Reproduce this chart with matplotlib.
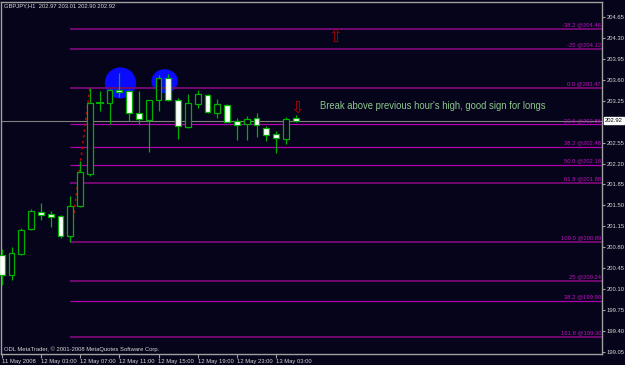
import matplotlib
matplotlib.use("Agg")
import matplotlib.pyplot as plt
from matplotlib.patches import Rectangle, Ellipse
import numpy as np

# ---------------- data ----------------
opens  = [200.66, 200.33, 200.69, 201.11, 201.39, 201.36, 201.32, 200.99, 201.48, 202.02,
          203.22, 203.21, 203.43, 203.41, 203.05, 202.93, 203.26, 203.63, 203.26, 202.81,
          203.20, 203.35, 203.04, 203.18, 202.91, 202.86, 202.96, 202.80, 202.69, 202.61, 202.97]
highs  = [200.77, 200.80, 201.12, 201.44, 201.54, 201.41, 201.33, 201.65, 202.25, 203.47,
          203.42, 203.45, 203.71, 203.43, 203.41, 203.27, 203.68, 203.70, 203.29, 203.37,
          203.43, 203.37, 203.28, 203.19, 202.97, 202.99, 203.05, 202.83, 202.75, 202.98, 203.01]
lows   = [200.16, 200.25, 200.67, 201.09, 201.26, 201.13, 200.96, 200.89, 201.47, 201.99,
          203.08, 202.87, 203.31, 202.91, 202.86, 202.40, 203.08, 203.25, 202.61, 202.80,
          203.13, 203.04, 202.96, 202.89, 202.59, 202.59, 202.64, 202.57, 202.38, 202.52, 202.90]
closes = [200.33, 200.70, 201.09, 201.41, 201.34, 201.31, 200.98, 201.49, 202.05, 203.22,
          203.21, 203.43, 203.40, 203.04, 202.94, 203.26, 203.63, 203.26, 202.83, 203.21,
          203.36, 203.06, 203.19, 202.90, 202.85, 202.95, 202.84, 202.67, 202.62, 202.95, 202.92]

time_tick_bars = [0, 4, 8, 12, 16, 20, 24, 28]
time_tick_labels = ["11 May 2008", "12 May 03:00", "12 May 07:00", "12 May 11:00",
                    "12 May 15:00", "12 May 19:00", "12 May 23:00", "13 May 03:00"]

price_ticks = [204.65, 204.30, 203.95, 203.60, 203.25, 202.55, 202.20, 201.85,
               201.50, 201.15, 200.80, 200.45, 200.10, 199.75, 199.40, 199.05]
current_price = 202.92

fib_labels = ["-38.2 @204.46", "-25 @204.12", "0.0 @203.47", "23.6 @202.86", "38.2 @202.48",
              "50.0 @202.18", "61.8 @201.88", "100.0 @200.89", "25 @200.24", "38.2 @199.90",
              "161.8 @199.30"]
fib_prices = [204.46, 204.12, 203.47, 202.86, 202.48, 202.18, 201.88, 200.89, 200.24, 199.90, 199.30]
fib_bright = [False, False, False, True, True, True, False, False, False, True, False]
fib_anchor_bars = [7, 9]          # bars of the 100% low and the 0% high
fib_anchor_prices = [200.89, 203.47]

circle_bars = [12.12, 16.63]
circle_prices = [203.55, 203.58]
circle_w = [3.2, 2.7]
circle_h = [0.52, 0.40]

annot_text = "Break above previous hour's high, good sign for longs"
annot_bar, annot_price = 32.5, 203.16
up_arrow_bar, up_arrow_price = 34.0, 204.32
down_arrow_bar, down_arrow_price = 30.1, 203.14

header = "GBPJPY,H1  202.97 203.01 202.90 202.92"
footer = "ODL MetaTrader, \u00a9 2001-2008 MetaQuotes Software Corp."

# ---------------- style ----------------
BG = "#05041a"
GREEN = "#00b000"
GRID = "#a0a0a0"
TXT = "#d8d8d8"
SMALL = ["Liberation Sans Narrow", "Liberation Sans", "DejaVu Sans"]
FS = 4.2

W, H = 625, 365
fig = plt.figure(figsize=(W / 100, H / 100), dpi=100, facecolor=BG)
L, R, T, B = 1.5, 602, 1.5, 354
ax = fig.add_axes([L / W, 1 - B / H, (R - L) / W, (B - T) / H], facecolor=BG)

px_per_bar = 9.8
x0 = 1.7
ax.set_xlim((L - x0) / px_per_bar, (R - x0) / px_per_bar)
ax.set_ylim(199.009, 204.914)

# circles (background)
for cx, cy, cw, ch in zip(circle_bars, circle_prices, circle_w, circle_h):
    ax.add_patch(Ellipse((cx, cy), cw, ch, facecolor="#0a0aff", edgecolor="none", zorder=1))

# fib lines
for lab, p, br in zip(fib_labels, fib_prices, fib_bright):
    ax.hlines(p, fib_anchor_bars[0], ax.get_xlim()[1],
              color="#b000b0" if br else "#700a70", lw=0.9 if br else 1.4, zorder=2)
    ax.text(ax.get_xlim()[1] - 0.1, p + 0.02, lab, ha="right", va="bottom",
            color="#c010c0", fontsize=FS, family=SMALL, zorder=3)

ax.plot(fib_anchor_bars, fib_anchor_prices, color="#c00000", lw=1.2, ls=(0, (1.5, 2)), zorder=3)

# current price line
ax.axhline(current_price, color="#808080", lw=0.8, zorder=2)

# candles
bw = 0.6
for i, (o, h, l, c) in enumerate(zip(opens, highs, lows, closes)):
    ax.vlines(i, l, h, color=GREEN, lw=0.9, zorder=4, clip_on=False)
    lo, hi = min(o, c), max(o, c)
    fc = "white" if c < o else BG
    if hi - lo < 0.02:
        ax.hlines((o + c) / 2, i - bw / 2 - 0.1, i + bw / 2 + 0.1, color=GREEN, lw=1.4, zorder=5)
    else:
        ax.add_patch(Rectangle((i - bw / 2, lo), bw, hi - lo, facecolor=fc,
                               edgecolor=GREEN, lw=0.9, zorder=5, clip_on=False))

# annotations
ax.text(annot_bar, annot_price, annot_text, color="#8cc88c", fontsize=6.85,
        family=["Liberation Sans", "DejaVu Sans"], ha="left", va="center", zorder=6)
ax.text(up_arrow_bar, up_arrow_price, "\u21e7", color="#b00000", fontsize=12,
        family="DejaVu Sans", ha="center", va="center", zorder=6)
ax.text(down_arrow_bar, down_arrow_price, "\u21e9", color="#b00000", fontsize=12,
        family="DejaVu Sans", ha="center", va="center", zorder=6)

# axes styling
for s in ax.spines.values():
    s.set_color(GRID)
    s.set_linewidth(1)
ax.yaxis.tick_right()
ax.set_yticks(price_ticks)
ax.set_yticklabels([f"{v:.2f}" for v in price_ticks])
ax.set_xticks(time_tick_bars)
ax.set_xticklabels(time_tick_labels)
ax.tick_params(axis="y", colors=GRID, labelcolor=TXT, labelsize=FS, length=2.5, width=0.8, pad=1.0)
ax.tick_params(axis="x", colors=GRID, labelcolor=TXT, labelsize=FS, length=3, width=0.8, pad=0.5)
for t in ax.get_yticklabels() + ax.get_xticklabels():
    t.set_family(SMALL)
for t in ax.get_xticklabels():
    t.set_ha("left")

ax.annotate(f"{current_price:.2f}", xy=(1, current_price), xycoords=("axes fraction", "data"),
            xytext=(2.0, 0), textcoords="offset points", ha="left", va="center",
            fontsize=FS, family=SMALL, color="black",
            bbox=dict(boxstyle="square,pad=0.15", fc="white", ec="white"))

fig.text(4 / W, 1 - 6 / H, header, color=TXT, fontsize=FS, family=SMALL, ha="left", va="center")
fig.text(4 / W, 1 - 349 / H, footer, color=TXT, fontsize=FS, family=SMALL, ha="left", va="center")

fig.savefig("out.png", dpi=100, facecolor=BG)
